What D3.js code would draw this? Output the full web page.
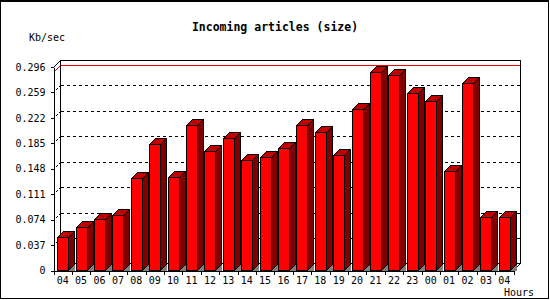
<!DOCTYPE html>
<html>
<head>
<meta charset="utf-8">
<script src="https://cdn.jsdelivr.net/npm/d3@7"></script>
<style>
  body { margin: 0; background: #fff; }
  text { font-family: "DejaVu Sans Mono", monospace; font-size: 10px; fill: #000; }
</style>
</head>
<body>
<div class="chart"></div>
<script>
var hours = ["04","05","06","07","08","09","10","11","12","13","14","15","16","17","18","19","20","21","22","23","00","01","02","03","04"];
var kbPerSec = [0.0485,0.0626,0.0743,0.0801,0.134,0.184,0.1355,0.2112,0.1733,0.1923,0.1613,0.1656,0.1777,0.2122,0.201,0.1685,0.2355,0.2884,0.2841,0.2578,0.2472,0.1452,0.2724,0.0772,0.0772];
var yTicks = [0,0.037,0.074,0.111,0.148,0.185,0.222,0.259,0.296];
var yTickLabels = ["0","0.037","0.074","0.111","0.148","0.185","0.222","0.259","0.296"];

createChart();

function createChart() {
    var svgWidth = 550;
    var svgHeight = 300;

    var left = 53.5, right = 513.5, bottom = 270.5, top = 67;
    var depth = 7;     // back wall offset
    var barDepth = 6;  // bar depth
    var barHalf = 5.5;

    var svg = d3.select(".chart")
        .append("svg")
        .attr("width", svgWidth).attr("height", svgHeight)
        .attr("shape-rendering", "crispEdges");

    // frame
    svg.append("rect")
        .attr("x", 0.5).attr("y", 0.5)
        .attr("width", 548).attr("height", 298)
        .attr("fill", "none").attr("stroke", "#000");
    svg.append("line")
        .attr("x1", 0).attr("x2", 549).attr("y1", 1.5).attr("y2", 1.5)
        .attr("stroke", "#000");

    var x = d3.scaleBand()
        .domain(d3.range(hours.length))
        .range([left, right]);

    var y = d3.scaleLinear()
        .domain([0, 0.296])
        .range([bottom, top]);

    // grid on back wall and side wall
    var grid = svg.append("g");
    yTicks.slice(1, -1).forEach(function(t) {
        var yy = Math.round(y(t)) + 0.5;
        grid.append("line")
            .attr("x1", left + depth).attr("x2", right + depth)
            .attr("y1", yy - depth).attr("y2", yy - depth)
            .attr("stroke", "#000").attr("stroke-dasharray", "3,3");
        grid.append("line")
            .attr("x1", left).attr("x2", left + depth)
            .attr("y1", yy).attr("y2", yy - depth)
            .attr("stroke", "#000").attr("stroke-dasharray", "2,2");
    });

    // max line
    var maxY = Math.round(y(d3.max(kbPerSec))) + 0.5;
    grid.append("line")
        .attr("x1", left + depth).attr("x2", right + depth)
        .attr("y1", maxY - depth).attr("y2", maxY - depth)
        .attr("stroke", "#f00");
    grid.append("line")
        .attr("x1", left).attr("x2", left + depth)
        .attr("y1", maxY).attr("y2", maxY - depth)
        .attr("stroke", "#f00");

    // box outline
    var topY = Math.round(y(0.296)) + 0.5;
    svg.append("path")
        .attr("d", "M" + left + "," + topY +
            "L" + (left + depth) + "," + (topY - depth) +
            "L" + (right + depth) + "," + (topY - depth) +
            "L" + (right + depth) + "," + (bottom - depth) +
            "L" + right + "," + bottom)
        .attr("fill", "none").attr("stroke", "#000");
    svg.append("line")
        .attr("x1", left + depth).attr("x2", left + depth)
        .attr("y1", topY - depth).attr("y2", bottom - depth)
        .attr("stroke", "#000");
    svg.append("line")
        .attr("x1", left + depth).attr("x2", right + depth)
        .attr("y1", bottom - depth).attr("y2", bottom - depth)
        .attr("stroke", "#000");

    // bars
    var bars = svg.append("g").selectAll("g")
        .data(kbPerSec)
        .enter()
        .append("g");

    bars.each(function(d, i) {
        var g = d3.select(this);
        var cx = x(i) + x.bandwidth() / 2;
        var x0 = Math.round(cx - barHalf) + 0.5;
        var x1 = x0 + 2 * barHalf;
        var yt = Math.round(y(d)) + 0.5;
        var yb = bottom;

        // shadow
        g.append("path")
            .attr("d", "M" + x1 + "," + yb + "L" + (x1 + barDepth) + "," + (yb - barDepth) +
                "L" + (x1 + barDepth) + "," + yb + "Z")
            .attr("fill", "#808080").attr("stroke", "#808080");
        // side
        g.append("path")
            .attr("d", "M" + x1 + "," + yt + "L" + (x1 + barDepth) + "," + (yt - barDepth) +
                "L" + (x1 + barDepth) + "," + (yb - barDepth) + "L" + x1 + "," + yb + "Z")
            .attr("fill", "#800000").attr("stroke", "#000");
        // top
        g.append("path")
            .attr("d", "M" + x0 + "," + yt + "L" + (x0 + barDepth) + "," + (yt - barDepth) +
                "L" + (x1 + barDepth) + "," + (yt - barDepth) + "L" + x1 + "," + yt + "Z")
            .attr("fill", "#c00000").attr("stroke", "#000");
        // front
        g.append("rect")
            .attr("x", x0).attr("y", yt)
            .attr("width", x1 - x0).attr("height", yb - yt)
            .attr("fill", "#ff0000").attr("stroke", "#000");
    });

    // y axis
    var leftAxis = d3.axisLeft(y)
        .tickValues(yTicks)
        .tickFormat(function(d, i) { return yTickLabels[i]; })
        .tickSize(3).tickSizeOuter(0).tickPadding(5);

    var yAxis = svg.append("g")
        .attr("transform", "translate(" + left + ",0)")
        .call(leftAxis);
    yAxis.selectAll("text").style("font-family", null).style("font-size", null);
    yAxis.attr("font-family", null).attr("font-size", null);

    // x axis
    var bottomAxis = d3.axisBottom(x)
        .tickFormat(function(d) { return hours[d]; })
        .tickSize(0).tickSizeOuter(0).tickPadding(6);

    var xAxis = svg.append("g")
        .attr("transform", "translate(0," + bottom + ")")
        .call(bottomAxis);
    xAxis.attr("font-family", null).attr("font-size", null);

    xAxis.selectAll(".sep")
        .data(d3.range(hours.length + 1))
        .enter()
        .append("line")
        .attr("class", "sep")
        .attr("x1", d => Math.round(left + d * x.step()) + 0.5)
        .attr("x2", d => Math.round(left + d * x.step()) + 0.5)
        .attr("y1", 0).attr("y2", 4)
        .attr("stroke", "#000");

    // titles
    svg.append("text")
        .attr("x", 275).attr("y", 30.5)
        .attr("text-anchor", "middle")
        .style("font-weight", "bold").style("font-size", "11.5px")
        .text("Incoming articles (size)");

    svg.append("text")
        .attr("x", 29).attr("y", 40.5)
        .text("Kb/sec");

    svg.append("text")
        .attr("x", 504).attr("y", 296)
        .text("Hours");
}
</script>
</body>
</html>
